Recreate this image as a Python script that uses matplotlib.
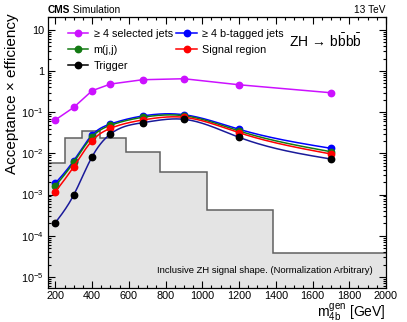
import numpy as np
import matplotlib
matplotlib.use("Agg")
import matplotlib.pyplot as plt
from matplotlib.ticker import MultipleLocator, LogLocator, FuncFormatter, NullFormatter

plt.rcParams['font.family'] = ['Liberation Sans', 'DejaVu Sans']
plt.rcParams['mathtext.fontset'] = 'custom'
plt.rcParams['mathtext.rm'] = 'Liberation Sans'
plt.rcParams['mathtext.it'] = 'Liberation Sans:italic'
plt.rcParams['mathtext.bf'] = 'Liberation Sans:bold'

# generated mass points
mass = [200, 300, 400, 500, 675, 900, 1200, 1700]

# efficiencies per selection step
eff_sel_jets = [0.065, 0.131, 0.333, 0.483, 0.615, 0.65, 0.464, 0.297]
eff_btag = [1.88e-3, 6.65e-3, 0.028, 0.0518, 0.081, 0.0869, 0.0385, 0.0133]
eff_mjj = [1.62e-3, 6.08e-3, 0.0254, 0.0481, 0.0752, 0.0822, 0.035, 0.011]
eff_sr = [1.17e-3, 4.75e-3, 0.0203, 0.0406, 0.0647, 0.0752, 0.0318, 9.7e-3]
eff_trig = [2.08e-4, 9.8e-4, 8.3e-3, 0.0296, 0.0556, 0.0673, 0.0246, 7.3e-3]

# inclusive signal shape (arbitrary normalisation)
shape_edges = [150, 253, 343, 443, 585, 770, 1025, 1385, 2000]
shape_vals = [5.75e-3, 0.0233, 0.0356, 0.024, 0.011, 3.47e-3, 4.2e-4, 3.76e-5]


def smooth(x, y, n=40):
    # natural cubic spline in (x, log y), like ROOT's "C" draw option
    x = np.asarray(x, float)
    ly = np.log10(y)
    k = len(x)
    h = np.diff(x)
    A = np.zeros((k, k))
    r = np.zeros(k)
    A[0, 0] = A[-1, -1] = 1
    for i in range(1, k - 1):
        A[i, i - 1] = h[i - 1]
        A[i, i] = 2 * (h[i - 1] + h[i])
        A[i, i + 1] = h[i]
        r[i] = 3 * ((ly[i + 1] - ly[i]) / h[i] - (ly[i] - ly[i - 1]) / h[i - 1])
    c = np.linalg.solve(A, r)
    xs, ys = [], []
    for i in range(k - 1):
        t = np.linspace(0, h[i], n)
        b = (ly[i + 1] - ly[i]) / h[i] - h[i] * (2 * c[i] + c[i + 1]) / 3
        d = (c[i + 1] - c[i]) / (3 * h[i])
        xs.append(x[i] + t)
        ys.append(ly[i] + b * t + c[i] * t ** 2 + d * t ** 3)
    return np.concatenate(xs), 10 ** np.concatenate(ys)


fig = plt.figure(figsize=(4.07, 3.22), dpi=100)
ax = fig.add_axes([48 / 407, 34 / 322, 338 / 407, 271 / 322])
ax.set_yscale('log')

ax.stairs(shape_vals, shape_edges, fill=True, baseline=1e-8, color='#e4e4e4', lw=0)
ax.stairs(shape_vals, shape_edges, baseline=None, color='#606060', lw=1.1)

ms = 4.6
lw = 1.1
h_sel, = ax.plot(mass, eff_sel_jets, '-o', color='#cc11ff', ms=ms, lw=lw)

series = [
    (eff_btag, '#0000ff', '#0000ff'),
    (eff_mjj, '#137a13', '#137a13'),
    (eff_sr, '#ff0000', '#ff0000'),
    (eff_trig, '#1a1a9a', 'black'),
]
handles = []
for vals, lc, mc in series:
    sx, sy = smooth(mass, vals)
    ax.plot(sx, sy, '-', color=lc, lw=lw)
    ax.plot(mass, vals, 'o', color=mc, ms=ms)
    h, = ax.plot([], [], '-o', color=mc, ms=ms, lw=lw)
    handles.append(h)

ax.legend([h_sel, handles[1], handles[3], handles[0], handles[2]],
          ['\u2265 4 selected jets', 'm(j,j)', 'Trigger', '\u2265 4 b-tagged jets', 'Signal region'],
          ncol=2, loc='upper left', bbox_to_anchor=(0.045, 0.972), frameon=False,
          fontsize=7.8, handlelength=1.9, handletextpad=0.5, columnspacing=0.35,
          labelspacing=0.55, borderaxespad=0)

ax.set_xlim(160, 2000)
ax.set_ylim(5.4e-6, 20.5)

ax.xaxis.set_major_locator(MultipleLocator(200))
ax.xaxis.set_minor_locator(MultipleLocator(50))
ax.yaxis.set_major_locator(LogLocator(base=10, numticks=20))
ax.yaxis.set_minor_locator(LogLocator(base=10, subs=np.arange(2, 10), numticks=20))
ax.yaxis.set_minor_formatter(NullFormatter())


def ylab(v, pos):
    e = int(round(np.log10(v)))
    if e == 0:
        return '1'
    if e == 1:
        return '10'
    return r'$10^{%d}$' % e


ax.yaxis.set_major_formatter(FuncFormatter(ylab))
ax.tick_params(which='both', direction='in', top=True, right=True, labelsize=7.8, width=0.8)
ax.tick_params(which='major', length=5, pad=3)
ax.tick_params(which='minor', length=2.5)
ax.tick_params(axis='x', which='major', pad=2)
for s in ax.spines.values():
    s.set_linewidth(0.9)

ax.set_ylabel('Acceptance \u00d7 efficiency', fontsize=11, loc='top')
ax.yaxis.set_label_coords(-0.085, 1.012)
ax.set_xlabel(r'$\mathrm{m}_{\mathrm{4b}}^{\mathrm{gen}}$ [GeV]', fontsize=10, loc='right', va='center')
ax.xaxis.set_label_coords(1.0, -0.09)

t = ax.text(0, 1.008, 'CMS', transform=ax.transAxes, fontsize=7.3, fontweight='bold', va='bottom')
ax.annotate(' Simulation', xy=(1, 0), xycoords=t, fontsize=7.3, va='bottom')
ax.text(1, 1.008, '13 TeV', transform=ax.transAxes, fontsize=7.3, ha='right', va='bottom')

ax.text(0.929, 0.911, r'ZH$\,\rightarrow\,$b$\bar{\mathrm{b}}$b$\bar{\mathrm{b}}$',
        transform=ax.transAxes, fontsize=10, ha='right', va='center')
ax.text(0.962, 0.064, 'Inclusive ZH signal shape. (Normalization Arbitrary)',
        transform=ax.transAxes, fontsize=6.8, ha='right', va='center')

fig.savefig('out.png', dpi=100)
